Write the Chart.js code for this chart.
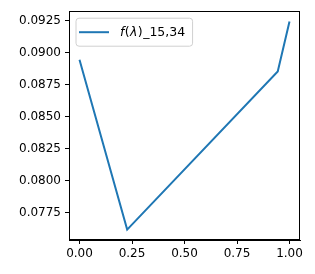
<!DOCTYPE html>
<html>
<head>
<meta charset="utf-8">
<script src="https://cdn.jsdelivr.net/npm/chart.js@4/dist/chart.umd.min.js"></script>
<style>
html,body{margin:0;padding:0;background:#fff;}
#wrap{width:315px;height:274px;}
</style>
</head>
<body>
<div id="wrap"><canvas id="c" width="315" height="274"></canvas></div>
<script>
// ---- data ----
const xValues = [0.0, 0.227, 0.944, 1.0];
const yValues = [0.08947, 0.07616, 0.08854, 0.09245];
const xTicks = [0.0, 0.25, 0.5, 0.75, 1.0];
const yTicks = [0.0775, 0.0800, 0.0825, 0.0850, 0.0875, 0.0900, 0.0925];
const seriesLabel = ['f', '(', 'λ', ')', '_15,34'];
const seriesItalic = [true, false, true, false, false];

// ---- axis limits (5% margin like matplotlib) ----
function lim(arr){const mn=Math.min(...arr),mx=Math.max(...arr),m=(mx-mn)*0.05;return [mn-m,mx+m];}
const [xMin,xMax] = lim(xValues);
const [yMin,yMax] = lim(yValues);

const FONT = 'DejaVu Sans';
const FS = 12;
const LFS = 12.5;
const COLOR = '#1f77b4';

const framePlugin = {
  id:'frame',
  afterDraw(chart){
    const {ctx, chartArea:a} = chart;
    ctx.save();
    ctx.strokeStyle='#000';
    ctx.lineWidth=1;
    ctx.strokeRect(Math.round(a.left)+0.5, Math.round(a.top)+0.5, Math.round(a.right-a.left)-1, Math.round(a.bottom-a.top)-1);
    // legend
    const x0=a.left+7, y0=a.top+7, h=28;
    let tw=0;
    seriesLabel.forEach((s,i)=>{ctx.font=(seriesItalic[i]?'italic ':'')+LFS+'px "'+FONT+'"'; tw+=ctx.measureText(s).width;});
    const w = 44 + tw + 9;
    const r=3;
    ctx.beginPath();
    ctx.moveTo(x0+r,y0);ctx.lineTo(x0+w-r,y0);ctx.quadraticCurveTo(x0+w,y0,x0+w,y0+r);
    ctx.lineTo(x0+w,y0+h-r);ctx.quadraticCurveTo(x0+w,y0+h,x0+w-r,y0+h);
    ctx.lineTo(x0+r,y0+h);ctx.quadraticCurveTo(x0,y0+h,x0,y0+h-r);
    ctx.lineTo(x0,y0+r);ctx.quadraticCurveTo(x0,y0,x0+r,y0);
    ctx.closePath();
    ctx.fillStyle='rgba(255,255,255,0.8)';ctx.fill();
    ctx.strokeStyle='#d0d0d0';ctx.lineWidth=1;ctx.stroke();
    ctx.beginPath();ctx.moveTo(x0+3,y0+14);ctx.lineTo(x0+33,y0+14);
    ctx.strokeStyle=COLOR;ctx.lineWidth=2;ctx.stroke();
    let tx=x0+44;
    ctx.fillStyle='#000';ctx.textBaseline='middle';
    seriesLabel.forEach((s,i)=>{ctx.font=(seriesItalic[i]?'italic ':'')+LFS+'px "'+FONT+'"'; ctx.fillText(s,tx,y0+14.5); tx+=ctx.measureText(s).width+(i<4?0.4:0);});
    ctx.restore();
  }
};

new Chart(document.getElementById('c'), {
  type:'scatter',
  data:{datasets:[{
    label: seriesLabel.join(''),
    data: xValues.map((x,i)=>({x:x,y:yValues[i]})),
    showLine:true, borderColor:COLOR, backgroundColor:COLOR,
    borderWidth:2, pointRadius:0, pointHoverRadius:0, tension:0
  }]},
  options:{
    responsive:false, animation:false,
    layout:{padding:{left:0,right:15,top:9,bottom:0}},
    plugins:{legend:{display:false},tooltip:{enabled:false}},
    scales:{
      x:{type:'linear',min:xMin,max:xMax,
        afterBuildTicks(ax){ax.ticks=xTicks.map(v=>({value:v}));},
        afterFit(ax){ax.height=34;},
        ticks:{callback:v=>v.toFixed(2),color:'#000',font:{family:FONT,size:FS},padding:3,maxRotation:0,autoSkip:false},
        grid:{drawOnChartArea:false,drawTicks:true,tickLength:4,color:'#000',tickWidth:1},
        border:{display:true,color:'#000',width:1}
      },
      y:{type:'linear',min:yMin,max:yMax,
        afterBuildTicks(ax){ax.ticks=yTicks.map(v=>({value:v}));},
        afterFit(ax){ax.width=69;},
        ticks:{callback:v=>v.toFixed(4),color:'#000',font:{family:FONT,size:FS},padding:4,autoSkip:false},
        grid:{drawOnChartArea:false,drawTicks:true,tickLength:4,color:'#000',tickWidth:1},
        border:{display:true,color:'#000',width:1}
      }
    }
  },
  plugins:[framePlugin]
});
</script>
</body>
</html>
